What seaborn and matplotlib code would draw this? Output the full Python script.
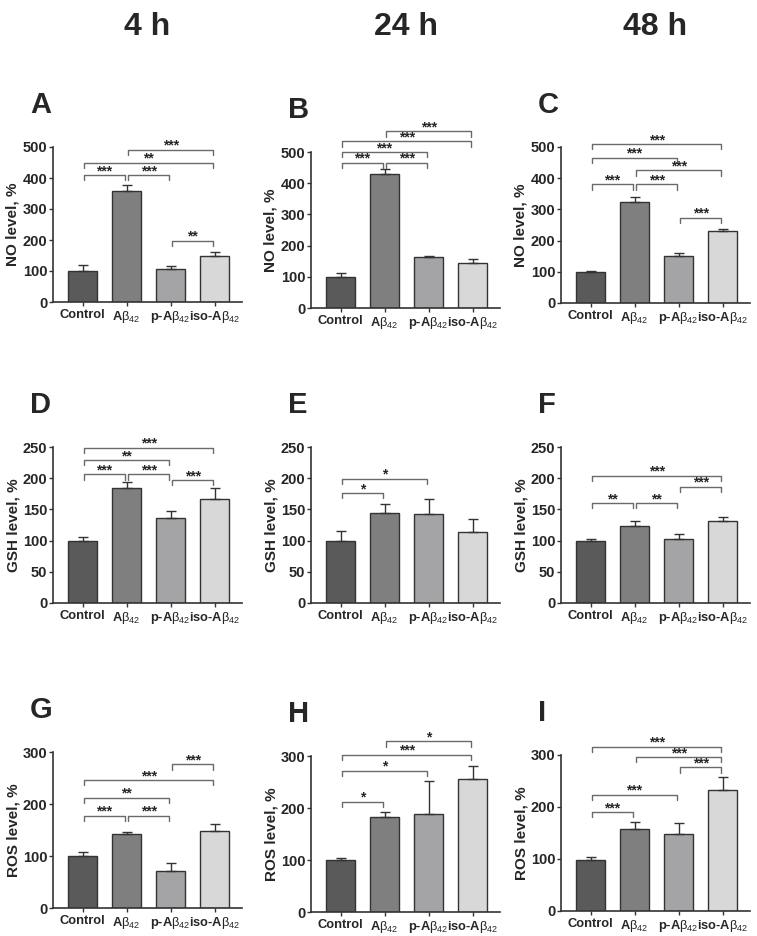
import matplotlib
matplotlib.use("Agg")
import matplotlib.pyplot as plt
import numpy as np
import seaborn as sns

# groups and labels
groups = ["Control", "Aβ42", "p-Aβ42", "iso-Aβ42"]
tick_labels = ["Control", r"A$\mathrm{\beta_{42}}$", r"p-A$\mathrm{\beta_{42}}$", r"iso-A$\mathrm{\beta_{42}}$"]
bar_colors = ["#5a5a5a", "#7f7f7f", "#a3a4a8", "#d8d8d8"]
times = ["4 h", "24 h", "48 h"]
panel_letters = ["A", "B", "C", "D", "E", "F", "G", "H", "I"]
ylabels = ["NO level, %", "GSH level, %", "ROS level, %"]
ylims = [500, 250, 300]
ysteps = [100, 50, 100]

# means and upper error (SD)
no_4h = [100, 357, 108, 149]
no_4h_err = [18, 19, 7, 12]
no_24h = [99, 428, 164, 144]
no_24h_err = [13, 16, 2, 12]
no_48h = [98, 323, 152, 231]
no_48h_err = [3, 18, 8, 7]
gsh_4h = [99, 185, 137, 166]
gsh_4h_err = [7, 9, 10, 19]
gsh_24h = [99, 145, 142, 113]
gsh_24h_err = [16, 13, 25, 21]
gsh_48h = [99, 123, 103, 131]
gsh_48h_err = [4, 9, 7, 7]
ros_4h = [100, 142, 71, 149]
ros_4h_err = [8, 4, 15, 12]
ros_24h = [100, 182, 188, 256]
ros_24h_err = [3, 11, 63, 24]
ros_48h = [98, 157, 149, 233]
ros_48h_err = [6, 14, 21, 24]

# significance brackets: (group i, group j, bracket height, label)
sig_A = [(0, 1, 409, "***"), (1, 2, 409, "***"), (0, 3, 450, "**"), (1, 3, 491, "***"), (2, 3, 198, "**")]
sig_B = [(0, 1, 466, "***"), (1, 2, 466, "***"), (0, 2, 500, "***"), (0, 3, 534, "***"), (1, 3, 566, "***")]
sig_C = [(0, 1, 380, "***"), (1, 2, 380, "***"), (2, 3, 274, "***"), (1, 3, 425, "***"), (0, 2, 466, "***"), (0, 3, 509, "***")]
sig_D = [(0, 1, 206, "***"), (1, 2, 206, "***"), (2, 3, 197, "***"), (0, 2, 229, "**"), (0, 3, 249, "***")]
sig_E = [(0, 1, 176, "*"), (0, 2, 199, "*")]
sig_F = [(0, 1, 160, "**"), (1, 2, 160, "**"), (2, 3, 186, "***"), (0, 3, 204, "***")]
sig_G = [(0, 1, 177, "***"), (1, 2, 177, "***"), (0, 2, 212, "**"), (0, 3, 246, "***"), (2, 3, 276, "***")]
sig_H = [(0, 1, 212, "*"), (0, 2, 272, "*"), (0, 3, 302, "***"), (1, 3, 328, "*")]
sig_I = [(0, 1, 190, "***"), (0, 2, 224, "***"), (2, 3, 276, "***"), (1, 3, 296, "***"), (0, 3, 316, "***")]

panels = [
    (no_4h, no_4h_err, sig_A), (no_24h, no_24h_err, sig_B), (no_48h, no_48h_err, sig_C),
    (gsh_4h, gsh_4h_err, sig_D), (gsh_24h, gsh_24h_err, sig_E), (gsh_48h, gsh_48h_err, sig_F),
    (ros_4h, ros_4h_err, sig_G), (ros_24h, ros_24h_err, sig_H), (ros_48h, ros_48h_err, sig_I),
]

sns.set_style("ticks")
plt.rcParams["font.family"] = ["Liberation Sans", "DejaVu Sans"]
plt.rcParams["font.weight"] = "bold"
plt.rcParams["axes.labelweight"] = "bold"
# thin upright beta like the original
plt.rcParams["mathtext.fontset"] = "custom"
plt.rcParams["mathtext.rm"] = "Liberation Sans:regular"
plt.rcParams["mathtext.it"] = "Liberation Sans:italic"
plt.rcParams["mathtext.bf"] = "Liberation Sans:bold"

W, H = 757, 936
fig = plt.figure(figsize=(W / 100, H / 100), dpi=100)

# axes boxes in pixels: left, top, bottom
boxes = [(53, 147, 302), (311, 152, 308), (561, 147, 303),
         (53, 447, 603), (311, 447, 603), (561, 447, 603),
         (53, 752, 908), (311, 756, 912), (561, 755, 911)]
axw = 189
dark = "#333333"

for k, ((vals, errs, sigs), (l, t, b)) in enumerate(zip(panels, boxes)):
    row = k // 3
    ax = fig.add_axes([l / W, 1 - b / H, axw / W, (b - t) / H])
    sns.barplot(x=groups, y=vals, hue=groups, palette=bar_colors, legend=False,
                width=0.66, edgecolor=dark, linewidth=1.0, errorbar=None, ax=ax)
    ax.errorbar(np.arange(4), vals, yerr=[np.zeros(4), errs], fmt="none",
                ecolor=dark, elinewidth=1.0, capsize=3.5, capthick=1.0)
    ymax = ylims[row]
    ax.set_ylim(0, ymax)
    ax.set_xlim(-0.67, 3.62)
    ax.set_yticks(np.arange(0, ymax + 1, ysteps[row]))
    ax.set_xticks(range(4))
    ax.set_xticklabels(tick_labels, fontsize=9.3, fontweight="bold")
    ax.tick_params(axis="y", labelsize=10.5, length=3, width=1.0, color=dark, pad=1)
    ax.tick_params(axis="x", length=3, width=1.0, color=dark, pad=2)
    for lab in ax.get_yticklabels():
        lab.set_fontweight("bold")
    ax.set_ylabel(ylabels[row], fontsize=11, fontweight="bold", labelpad=2)
    ax.set_xlabel("")
    sns.despine(ax=ax)
    for s in ["left", "bottom"]:
        ax.spines[s].set_color(dark)
        ax.spines[s].set_linewidth(1.2)

    tick = ymax * 0.033
    for i, j, y, lab in sigs:
        x0, x1 = i + 0.03, j - 0.03
        ax.plot([x0, x0, x1, x1], [y - tick, y, y, y - tick], color="#6a6a6a",
                lw=1.0, clip_on=False)
        ax.annotate(lab, xy=((i + j) / 2, y), xytext=(0, 0), textcoords="offset points",
                    ha="center", va="baseline", fontsize=10, fontweight="bold",
                    annotation_clip=False)

    fig.text((l - 23) / W, 1 - (t - 34) / H, panel_letters[k], fontsize=21,
             fontweight="bold", ha="left", va="baseline")

# column headers
for c, txt in enumerate(times):
    l = boxes[c][0]
    fig.text((l + axw / 2) / W, 1 - 35 / H, txt, fontsize=23, fontweight="bold",
             ha="center", va="baseline")

fig.savefig("out.png", dpi=100)
